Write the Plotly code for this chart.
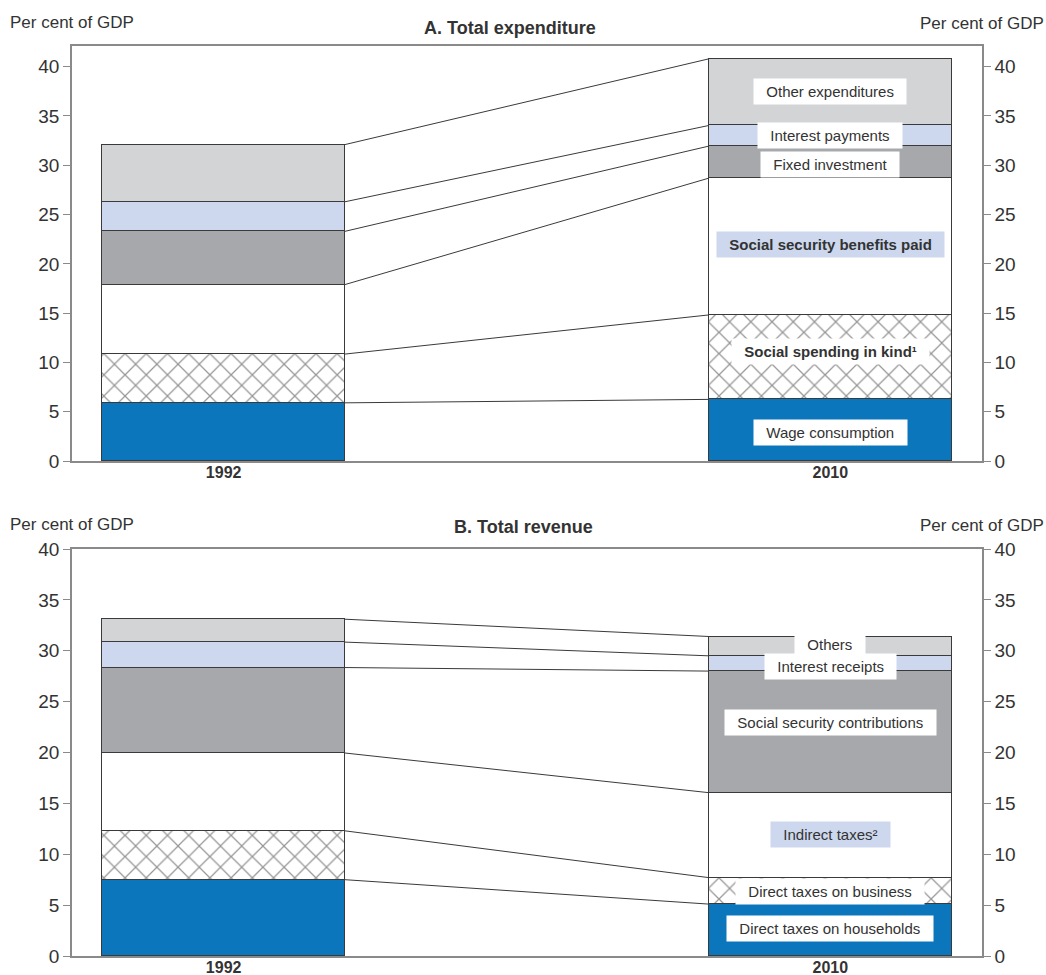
import plotly.graph_objects as go

# ---- data (per cent of GDP) ----
years = ["1992", "2010"]

exp_names = ["Wage consumption", "Social spending in kind¹", "Social security benefits paid",
             "Fixed investment", "Interest payments", "Other expenditures"]
exp_1992 = [5.9, 4.95, 7.05, 5.4, 3.0, 5.8]
exp_2010 = [6.25, 8.57, 13.88, 3.25, 2.09, 6.76]
exp_label_y = [2.9, 11.15, 22.0, 30.05, 33.0, 37.5]

rev_names = ["Direct taxes on households", "Direct taxes on business", "Indirect taxes²",
             "Social security contributions", "Interest receipts", "Others"]
rev_1992 = [7.5, 4.8, 7.65, 8.4, 2.5, 2.25]
rev_2010 = [5.1, 2.6, 8.35, 11.95, 1.5, 1.9]
rev_label_y = [2.7, 6.35, 11.95, 22.95, 28.45, 30.6]

# ---- styling ----
FONT = "Arial, 'Liberation Sans', sans-serif"
TXT = "#333333"
AXIS = "#8a8a8a"
EDGE = "#3a3a3a"
seg_colors = ["#0b76bc", "white", "white", "#a7a8ab", "#cdd8ee", "#d3d4d6"]
seg_hatch = [False, True, False, False, False, False]
label_bg = ["white", "white", "#cdd8ee", "white", "white", "white"]
exp_bold = [False, True, True, False, False, False]
rev_label_bg = ["white", "white", "#cdd8ee", "white", "white", "white"]

BAR_W = 0.4
fig = go.Figure()


def add_panel(vals_a, vals_b, xref, yref):
    for i in range(len(vals_a)):
        marker = dict(color=seg_colors[i], line=dict(color=EDGE, width=1))
        if seg_hatch[i]:
            marker["pattern"] = dict(shape="x", fgcolor="#2e2e2e", bgcolor="white",
                                     size=15, solidity=0.16)
        fig.add_trace(go.Bar(x=[0, 1], y=[vals_a[i], vals_b[i]], width=BAR_W,
                             marker=marker, xaxis=xref, yaxis=yref,
                             showlegend=False, hoverinfo="skip"))
    # lines joining matching segment boundaries of the two bars
    ca, cb = 0.0, 0.0
    for i in range(len(vals_a)):
        ca += vals_a[i]
        cb += vals_b[i]
        fig.add_trace(go.Scatter(x=[BAR_W / 2, 1 - BAR_W / 2], y=[ca, cb], mode="lines",
                                 line=dict(color=EDGE, width=1), xaxis=xref, yaxis=yref,
                                 showlegend=False, hoverinfo="skip"))


add_panel(exp_1992, exp_2010, "x", "y")
add_panel(rev_1992, rev_2010, "x2", "y3")

# placeholders so the right-hand axes get drawn
fig.add_trace(go.Scatter(x=[0], y=[0], mode="markers", marker=dict(opacity=0),
                         xaxis="x", yaxis="y2", showlegend=False, hoverinfo="skip"))
fig.add_trace(go.Scatter(x=[0], y=[0], mode="markers", marker=dict(opacity=0),
                         xaxis="x2", yaxis="y4", showlegend=False, hoverinfo="skip"))

XDOM = [72 / 1046, 982 / 1046]
TOP_DOM = [1 - 461 / 975, 1 - 46 / 975]
BOT_DOM = [1 - 956 / 975, 1 - 549 / 975]

xcommon = dict(range=[-0.25, 1.25], tickvals=[0, 1], ticktext=years, showgrid=False,
               zeroline=False, showline=True, linecolor=AXIS, linewidth=1.5, mirror=True,
               ticks="", ticklen=0, automargin=False, ticklabelstandoff=-4,
               tickfont=dict(family=FONT, size=16, color=TXT, weight="bold"),
               fixedrange=True, domain=XDOM)
ycommon = dict(tickvals=[0, 5, 10, 15, 20, 25, 30, 35, 40], showgrid=False, zeroline=False,
               showline=True, linecolor=AXIS, linewidth=1.5, ticks="outside", ticklen=7,
               tickcolor=AXIS, tickwidth=1.2, automargin=False,
               tickfont=dict(family=FONT, size=19, color=TXT), fixedrange=True)

fig.update_layout(
    width=1046, height=975, margin=dict(l=0, r=0, t=0, b=0, autoexpand=False),
    paper_bgcolor="white", plot_bgcolor="white", barmode="stack", bargap=0,
    xaxis=dict(**xcommon, anchor="y"),
    xaxis2=dict(**xcommon, anchor="y3"),
    yaxis=dict(**ycommon, range=[0, 42.1], domain=TOP_DOM, anchor="x", side="left"),
    yaxis2=dict(**ycommon, range=[0, 42.1], domain=TOP_DOM, anchor="x", side="right",
                overlaying="y"),
    yaxis3=dict(**ycommon, range=[0, 40], domain=BOT_DOM, anchor="x2", side="left"),
    yaxis4=dict(**ycommon, range=[0, 40], domain=BOT_DOM, anchor="x2", side="right",
                overlaying="y3"),
)

ann = []
NB = "\u00a0"


def seg_label(text, y, xref, yref, bg, bold):
    ann.append(dict(x=1, y=y, xref=xref, yref=yref, text=NB + NB + text + NB + NB,
                    showarrow=False, bgcolor=bg, borderpad=4, xanchor="center",
                    yanchor="middle",
                    font=dict(family=FONT, size=15, color=TXT,
                              weight="bold" if bold else "normal")))


for i, name in enumerate(exp_names):
    seg_label(name, exp_label_y[i], "x", "y", label_bg[i], exp_bold[i])
# 'Others' first so 'Interest receipts' sits on top of it
order = [5, 4, 3, 2, 1, 0]
for i in order:
    seg_label(rev_names[i], rev_label_y[i], "x2", "y3", rev_label_bg[i], False)

# panel titles and unit captions
ann += [
    dict(x=510 / 1046, y=1 - 28 / 975, xref="paper", yref="paper", text="<b>A. Total expenditure</b>",
         showarrow=False, xanchor="center", yanchor="middle",
         font=dict(family=FONT, size=18, color=TXT)),
    dict(x=523 / 1046, y=1 - 527 / 975, xref="paper", yref="paper", text="<b>B. Total revenue</b>",
         showarrow=False, xanchor="center", yanchor="middle",
         font=dict(family=FONT, size=18, color=TXT)),
]
for yy in [22, 524]:
    ann.append(dict(x=8 / 1046, y=1 - yy / 975, xref="paper", yref="paper", text="Per cent of GDP",
                    showarrow=False, xanchor="left", yanchor="middle",
                    font=dict(family=FONT, size=17, color=TXT)))
    ann.append(dict(x=1, y=1 - (yy + 1) / 975, xref="paper", yref="paper", text="Per cent of GDP",
                    showarrow=False, xanchor="right", yanchor="middle",
                    font=dict(family=FONT, size=17, color=TXT)))

fig.update_layout(annotations=ann)
fig.write_html("out.html")
